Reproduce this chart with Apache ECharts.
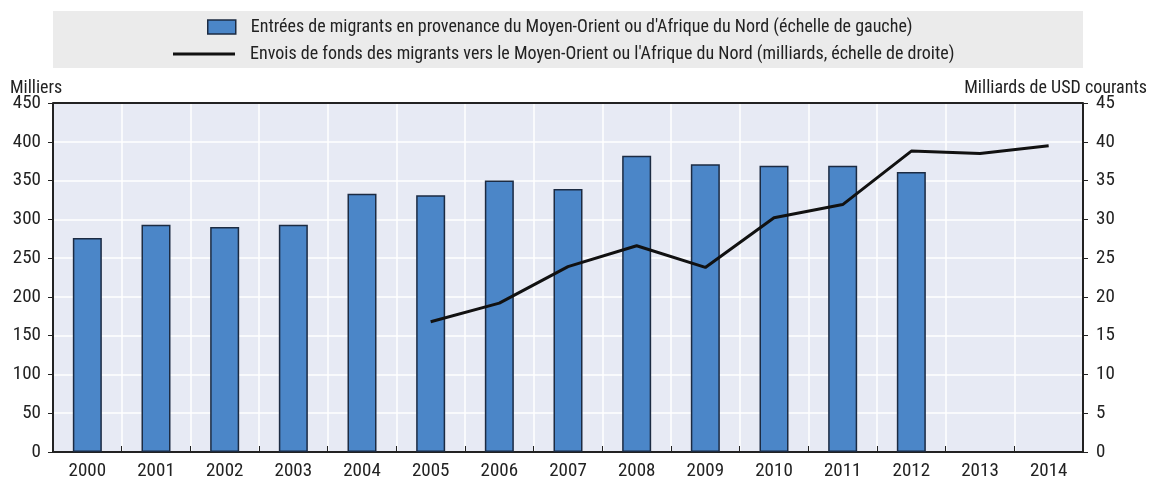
<!DOCTYPE html>
<html>
<head>
<meta charset="utf-8">
<script src="https://cdn.jsdelivr.net/npm/echarts@6/dist/echarts.min.js"></script>
<style>
html,body{margin:0;padding:0;background:#fff;}
#c{width:1157px;height:481px;}
</style>
</head>
<body>
<div id="c"></div>
<script>
var years = ['2000','2001','2002','2003','2004','2005','2006','2007','2008','2009','2010','2011','2012','2013','2014'];
var migrants = [276, 293, 290, 293, 333, 331, 350, 339, 382, 371, 369, 369, 361, null, null];
var remittances = [null, null, null, null, null, 16.8, 19.2, 23.9, 26.6, 23.8, 30.2, 31.9, 38.8, 38.5, 39.5];
var leftTicks = [0, 450, 50];
var rightTicks = [0, 45, 5];
var barName = "Entrées de migrants en provenance du Moyen-Orient ou d'Afrique du Nord (échelle de gauche)";
var lineName = "Envois de fonds des migrants vers le Moyen-Orient ou l'Afrique du Nord (milliards, échelle de droite)";
var leftAxisName = 'Milliers';
var rightAxisName = 'Milliards de USD courants';

var FONT = '"Roboto Condensed", "Liberation Sans Narrow", "Arial Narrow", sans-serif';
var chart = echarts.init(document.getElementById('c'), null, {renderer: 'canvas'});
var txt = {fontFamily: FONT, fontSize: 18, color: '#222'};
var tick = {fontFamily: FONT, fontSize: 19, color: '#222'};
chart.setOption({
  animation: false,
  textStyle: {fontFamily: FONT},
  graphic: [
    {type: 'rect', z: -10, shape: {x: 53, y: 11, width: 1030, height: 57}, style: {fill: '#ebebeb'}},
    {type: 'text', left: 10, top: 79, style: {text: leftAxisName, font: '18px ' + FONT, fill: '#222'}},
    {type: 'text', right: 10, top: 79, style: {text: rightAxisName, font: '18px ' + FONT, fill: '#222'}}
  ],
  legend: [
    {data: [{name: barName, icon: 'rect'}], left: 207, top: 18, padding: 0, itemWidth: 28, itemHeight: 14, itemGap: 0,
     itemStyle: {color: '#4b86c8', borderColor: '#1c2b42', borderWidth: 1.5},
     textStyle: Object.assign({}, txt, {padding: [0, 0, 0, 10]})},
    {data: [{name: lineName, icon: 'rect'}], left: 173, top: 45, padding: 0, itemWidth: 62, itemHeight: 3, itemGap: 0,
     itemStyle: {color: '#111', borderWidth: 0},
     textStyle: Object.assign({}, txt, {padding: [0, 0, 0, 10]})}
  ],
  grid: {left: 53, right: 74, top: 103, bottom: 27, show: true, backgroundColor: '#e7eaf4', borderWidth: 0, containLabel: false},
  xAxis: {
    type: 'category', data: years, boundaryGap: true,
    axisLine: {show: true, lineStyle: {color: '#222', width: 2}},
    axisTick: {show: true, inside: true, length: 6, lineStyle: {color: '#222'}},
    axisLabel: Object.assign({}, tick, {margin: 10}),
    splitLine: {show: true, lineStyle: {color: '#ffffff', width: 1.5}}
  },
  yAxis: [
    {type: 'value', min: leftTicks[0], max: leftTicks[1], interval: leftTicks[2], position: 'left',
     axisLine: {show: true, lineStyle: {color: '#222', width: 2}},
     axisTick: {show: true, length: 5, lineStyle: {color: '#222'}},
     axisLabel: Object.assign({}, tick, {margin: 12}),
     splitLine: {show: true, lineStyle: {color: '#ffffff', width: 1.5}}},
    {type: 'value', min: rightTicks[0], max: rightTicks[1], interval: rightTicks[2], position: 'right',
     axisLine: {show: true, lineStyle: {color: '#222', width: 2}},
     axisTick: {show: true, length: 5, lineStyle: {color: '#222'}},
     axisLabel: Object.assign({}, tick, {margin: 13}),
     splitLine: {show: false}}
  ],
  series: [
    {name: barName, type: 'bar', data: migrants, yAxisIndex: 0, barWidth: 29,
     itemStyle: {color: '#4b86c8', borderColor: '#1c2b42', borderWidth: 1.5}},
    {name: lineName, type: 'line', data: remittances, yAxisIndex: 1, symbol: 'none',
     lineStyle: {color: '#111', width: 3}, itemStyle: {color: '#111'}},
    {type: 'line', yAxisIndex: 0, data: [], silent: true,
     markLine: {silent: true, symbol: 'none', label: {show: false},
       lineStyle: {color: '#222', width: 2, type: 'solid'},
       data: [{yAxis: leftTicks[1]}]}}
  ]
});
</script>
</body>
</html>
